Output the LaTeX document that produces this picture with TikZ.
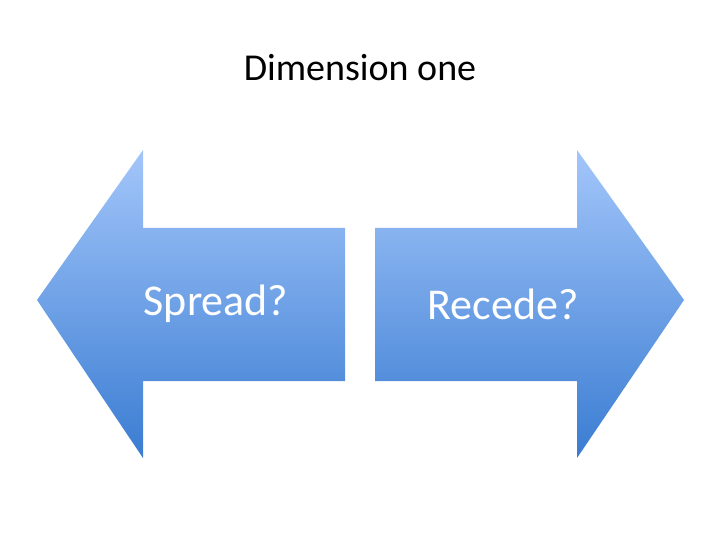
\documentclass[tikz,border=0pt]{standalone}
\usepackage{fontspec}
\setmainfont{Carlito}
\usepackage{tikz}
\usetikzlibrary{positioning}
\definecolor{lightblue}{RGB}{163,198,250}
\definecolor{darkblue}{RGB}{58,124,210}
\begin{document}
\begin{tikzpicture}[x=1pt, y=-1pt,
	arrowshape/.style={top color=lightblue, bottom color=darkblue, draw=none},
	label/.style={font=\fontsize{44}{48}\selectfont, text=white},
	title/.style={font=\fontsize{38}{42}\selectfont}
	]
	\useasboundingbox (0,0) rectangle (720,540);
	%
	% Arrows
	%
	\path[arrowshape] (37,300) -- (143,150) -- (143,228) -- (345,228)
		-- (345,381) -- (143,381) -- (143,458) -- cycle;
	\path[arrowshape] (684,300) -- (577,150) -- (577,228) -- (375,228)
		-- (375,381) -- (577,381) -- (577,458) -- cycle;
	%
	% Texts
	%
	\node[title] (TITLE) at (360,68) {Dimension one};
	\node[label] (SPREAD) at (216,304) {Spread?};
	\node[label] (RECEDE) at (503,304) {Recede?};
\end{tikzpicture}
\end{document}
